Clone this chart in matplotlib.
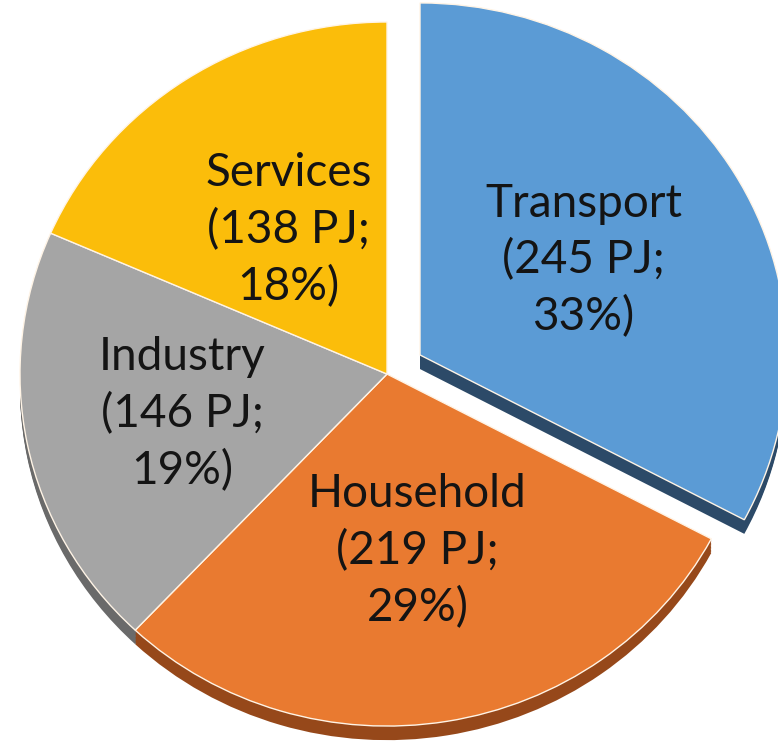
import numpy as np
import matplotlib
matplotlib.use("Agg")
import matplotlib.pyplot as plt

categories = ["Transport", "Household", "Industry", "Services"]
energy_pj = [245, 219, 146, 138]
shares_pct = [33, 29, 19, 18]

colors_top = ["#5B9BD5", "#E97A30", "#A5A5A5", "#FBBD0A"]
colors_side = ["#2C4A68", "#96481A", "#6A6A6A", "#A37A00"]
explode = [0.105, 0, 0, 0]
label_r = [0.52, 0.51, 0.57, 0.49]

fig = plt.figure(figsize=(7.78, 7.5), dpi=100)
ax = fig.add_axes([0, 0, 1, 1])

depth = 0.04
steps = 10
for k in range(steps, 0, -1):
    ax.pie(energy_pj, colors=colors_side, explode=explode, startangle=90,
           counterclock=False, center=(0, -depth * k / steps),
           wedgeprops=dict(linewidth=0))

wedges, _ = ax.pie(energy_pj, colors=colors_top, explode=explode, startangle=90,
                   counterclock=False,
                   wedgeprops=dict(edgecolor="#FFF4E6", linewidth=1.0))

for w, cat, val, pct, r in zip(wedges, categories, energy_pj, shares_pct, label_r):
    mid = np.deg2rad((w.theta1 + w.theta2) / 2)
    cx, cy = w.center
    ax.text(cx + r * np.cos(mid), cy + r * np.sin(mid),
            f"{cat}\n({val} PJ;\n{pct}%)", ha="center", va="center",
            fontsize=33, family="Lato", color="#141414", linespacing=1.4)

ax.set_aspect("auto")
ax.set_xlim(-1.0545, 1.0654)
ax.set_ylim(-1.068, 1.0625)
ax.axis("off")
fig.savefig("out.png", dpi=100, facecolor="white")
